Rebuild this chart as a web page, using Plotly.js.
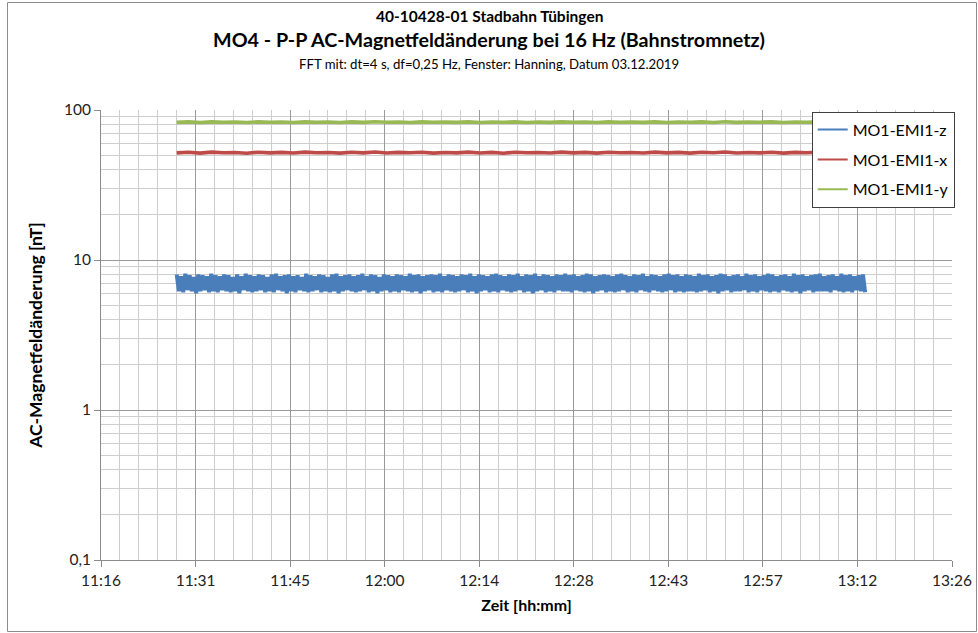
<!DOCTYPE html>
<html>
<head>
<meta charset="utf-8">
<script src="https://cdn.plot.ly/plotly-3.0.1.min.js"></script>
<style>html,body{margin:0;padding:0;background:#fff;}#chart{width:978px;height:633px;}</style>
</head>
<body>
<div id="chart"></div>
<script>
// ---- data ----
var seriesNames = ["MO1-EMI1-z", "MO1-EMI1-x", "MO1-EMI1-y"];
var seriesColors = ["#4a7ebb", "#be4b48", "#98b954"];
var startTime = "2019-12-03T11:28:20";
var endTime = "2019-12-03T13:13:10";

var valuesZ = [
 8.0,6.2,7.8,6.1,8.1,6.3,7.9,6.2,7.7,6.0,8.0,6.2,7.9,6.3,7.8,6.1,8.1,6.2,7.9,6.1,
 7.8,6.3,8.0,6.2,7.9,6.1,7.7,6.2,8.0,6.0,7.8,6.3,8.1,6.2,7.9,6.1,7.8,6.2,8.0,6.3,
 7.9,6.1,7.7,6.2,8.0,6.1,8.1,6.3,7.8,6.2,7.9,6.0,8.0,6.2,7.8,6.1,7.9,6.3,7.7,6.2,
 8.1,6.1,7.9,6.2,7.8,6.3,8.0,6.1,7.9,6.2,7.7,6.1,8.0,6.2,8.1,6.0,7.8,6.2,7.9,6.3,
 8.0,6.2,7.8,6.1,7.9,6.2,8.1,6.3,7.8,6.1,8.0,6.2,7.9,6.0,7.7,6.2,8.0,6.3,7.9,6.1,
 7.8,6.2,8.0,6.1,7.9,6.3,7.8,6.2,8.1,6.1,7.9,6.2,8.0,6.0,7.8,6.2,7.9,6.3,8.0,6.1,
 7.9,6.2,8.1,6.1,7.8,6.3,8.0,6.2,7.9,6.1,7.8,6.2,8.0,6.3,7.9,6.1,8.1,6.2,7.8,6.0,
 8.0,6.2,7.9,6.3,7.8,6.1,8.0,6.2,8.1,6.1,7.9,6.3,7.8,6.2,8.0,6.1,7.9,6.2,8.1,6.3,
 7.8,6.1,8.0,6.2,7.9,6.0,8.1,6.2,7.8,6.3,8.0,6.1,7.9,6.2,7.8,6.1,8.0,6.3,7.9,6.2,
 8.1,6.2,7.9,6.1,8.0,6.3,7.8,6.2,7.9,6.1,8.1,6.2,8.0,6.0,7.8,6.2,7.9,6.3,8.0,6.1,
 7.9,6.2,7.8,6.1,8.0,6.2,8.1,6.3,7.9,6.1,7.8,6.2,8.0,6.1,7.9,6.3,8.1,6.2,7.8,6.1,
 8.0,6.3,7.9,6.2,7.8,6.1,8.0,6.2,8.1,6.3,7.9,6.1,8.0,6.2,7.8,6.1,8.0,6.2,7.9,6.2,
 7.8,6.1,8.1,6.2,7.9,6.3,8.0,6.1,7.8,6.2,7.9,6.0,8.1,6.2,8.0,6.3,7.8,6.1,7.9,6.2,
 8.0,6.2,7.8,6.3,8.1,6.1,7.9,6.2,8.0,6.1,7.8,6.3,7.9,6.2,8.1,6.1,8.0,6.2,7.8,6.1,
 7.9,6.3,8.0,6.2,7.8,6.1,8.1,6.2,7.9,6.0,8.0,6.2,7.8,6.3,7.9,6.1,8.0,6.2,8.1,6.2,
 7.8,6.2,7.9,6.1,8.0,6.3,7.8,6.2,8.1,6.1,7.9,6.2,8.0,6.1,7.8,6.3,7.9,6.2,8.0,6.1
];
var valuesX = [
 51.8,52.3,51.6,52.4,51.9,52.1,51.5,52.3,51.8,52.2,51.7,52.4,51.9,52.1,51.6,52.3,51.8,52.5,51.7,52.2,
 51.9,52.3,51.6,52.1,51.8,52.4,51.7,52.2,51.5,52.3,51.9,52.1,51.7,52.4,51.8,52.2,51.6,52.3,51.9,52.1,
 51.7,52.4,51.8,52.2,51.6,52.3,51.9,52.5,51.7,52.1,51.8,52.3,51.6,52.2,51.9,52.4,51.7,52.1,51.8,52.3
];
var valuesY = [
 82.7,83.3,82.5,83.4,82.8,83.1,82.6,83.3,82.9,83.2,82.6,83.4,82.8,83.1,82.5,83.3,82.7,83.5,82.8,83.2,
 82.6,83.3,82.9,83.1,82.7,83.4,82.6,83.2,82.8,83.3,82.5,83.1,82.7,83.4,82.9,83.2,82.6,83.3,82.8,83.1,
 82.7,83.4,82.6,83.2,82.8,83.3,82.5,83.5,82.7,83.1,82.9,83.3,82.6,83.2,82.8,83.4,82.7,83.1,82.6,83.3
];

var xTickStart = "2019-12-03 11:16:48";
var xRange = ["2019-12-03 11:16:48", "2019-12-03 13:26:24"];
var yTickVals = [0.1, 1, 10, 100];

// sample times: evenly spaced between measured start and end
function sampleTimes(n) {
  var a = new Date(startTime + "Z").getTime(), b = new Date(endTime + "Z").getTime();
  var out = [];
  for (var i = 0; i < n; i++) {
    var d = new Date(a + (b - a) * i / (n - 1));
    out.push(d.toISOString().replace("T", " ").replace("Z", ""));
  }
  return out;
}

var allValues = [valuesZ, valuesX, valuesY];
var lineWidths = [4, 3.6, 3.6];
var traces = allValues.map(function (v, k) {
  return {
    type: "scatter", mode: "lines",
    x: sampleTimes(v.length), y: v,
    name: seriesNames[k], legendgroup: "g" + k, showlegend: false,
    line: {color: seriesColors[k], width: lineWidths[k], simplify: false},
    hoverinfo: "skip"
  };
});
// legend entries drawn with the thinner line used in the legend swatches
seriesNames.forEach(function (nm, k) {
  traces.push({
    type: "scatter", mode: "lines", x: [null], y: [null],
    name: nm, legendgroup: "g" + k, showlegend: true,
    line: {color: seriesColors[k], width: 2}, hoverinfo: "skip"
  });
});

var FONT = "Lato, 'Liberation Sans', sans-serif";
var majorGrid = "#9a9a9a", minorGrid = "#cdcdcd";

var layout = {
  width: 978, height: 633,
  margin: {l: 101, r: 26, t: 110, b: 73, pad: 0},
  paper_bgcolor: "#fff", plot_bgcolor: "#fff",
  separators: ", ",
  font: {family: FONT, size: 15, color: "#222"},
  showlegend: true,
  title: {
    text: "<b>MO4 - P-P AC-Magnetfeldänderung bei 16 Hz (Bahnstromnetz)</b>",
    font: {family: FONT, size: 19.7, color: "#000"},
    x: 0.5, xref: "container", xanchor: "center",
    y: 1 - 40 / 633, yref: "container", yanchor: "middle"
  },
  annotations: [
    {text: "<b>40-10428-01 Stadbahn Tübingen</b>", xref: "paper", yref: "paper",
     x: (489 - 101) / 851, y: 1 + (110 - 16) / 450, xanchor: "center", yanchor: "middle",
     showarrow: false, font: {family: FONT, size: 15.5, color: "#000"}},
    {text: "FFT mit: dt=4 s, df=0,25 Hz, Fenster: Hanning, Datum 03.12.2019", xref: "paper", yref: "paper",
     x: (489 - 101) / 851, y: 1 + (110 - 64) / 450, xanchor: "center", yanchor: "middle",
     showarrow: false, font: {family: FONT, size: 13.2, color: "#000"}}
  ],
  shapes: [
    {type: "rect", xref: "paper", yref: "paper",
     x0: (7.5 - 101) / 851, x1: (976.5 - 101) / 851,
     y0: 1 - (631.5 - 110) / 450, y1: 1 + (110 - 2.5) / 450,
     line: {color: "#8c8c8c", width: 1}, fillcolor: "rgba(0,0,0,0)", layer: "below"}
  ],
  xaxis: {
    type: "date", range: xRange,
    tick0: xTickStart, dtick: 864000, tickformat: "%H:%M",
    showgrid: true, gridcolor: majorGrid, gridwidth: 1,
    ticks: "outside", ticklen: 6, tickcolor: "#8c8c8c",
    showline: true, linecolor: "#8c8c8c", linewidth: 1,
    zeroline: false,
    tickfont: {family: FONT, size: 15.5, color: "#222"},
    minor: {dtick: 172800, showgrid: true, gridcolor: minorGrid, gridwidth: 1, ticks: ""},
    title: {text: "<b>Zeit [hh:mm]</b>", font: {family: FONT, size: 16, color: "#000"}, standoff: 12}
  },
  yaxis: {
    type: "log", range: [-1, 2],
    tickvals: yTickVals, tickformat: "",
    showgrid: true, gridcolor: majorGrid, gridwidth: 1,
    ticks: "outside", ticklen: 6, tickcolor: "#8c8c8c",
    showline: true, linecolor: "#8c8c8c", linewidth: 1,
    zeroline: false,
    tickfont: {family: FONT, size: 15.5, color: "#222"},
    minor: {dtick: "D1", showgrid: true, gridcolor: minorGrid, gridwidth: 1, ticks: ""},
    title: {text: "<b>AC-Magnetfeldänderung [nT]</b>", font: {family: FONT, size: 17.5, color: "#000"}, standoff: 16}
  },
  legend: {
    x: (811.7 - 101) / 851, y: 1 - (111.7 - 110) / 450, xanchor: "left", yanchor: "top",
    bgcolor: "#fff", bordercolor: "#404040", borderwidth: 1,
    font: {family: FONT, size: 16, color: "#000"},
    tracegroupgap: 6, itemwidth: 30, traceorder: "grouped"
  }
};

Plotly.newPlot("chart", traces, layout, {staticPlot: true, displayModeBar: false});
</script>
</body>
</html>
